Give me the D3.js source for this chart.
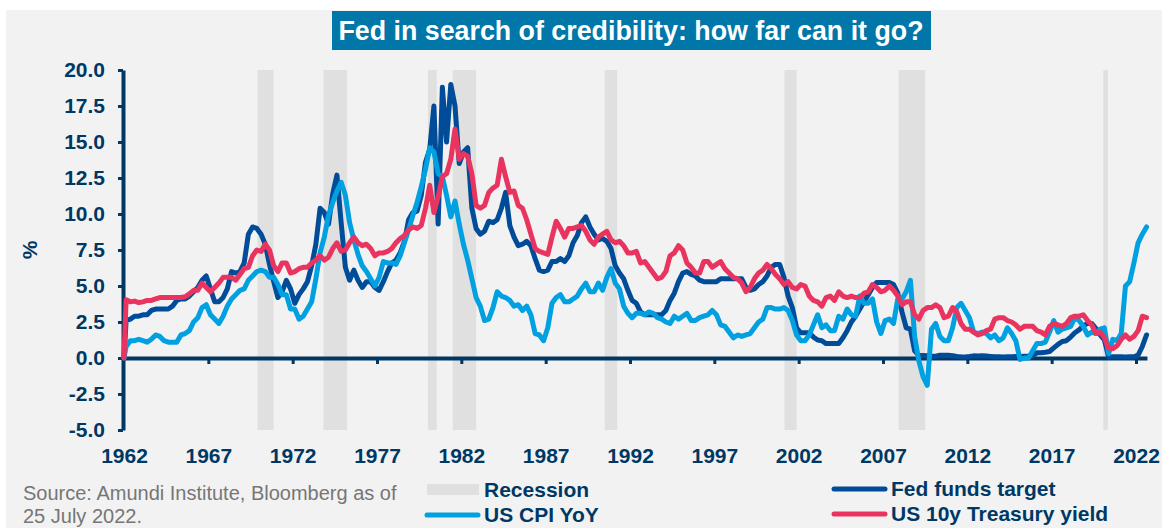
<!doctype html>
<html>
<head>
    <meta charset="utf-8">
    <script src="https://cdn.jsdelivr.net/npm/d3@7"></script>
    <style>
        html, body {
            margin: 0;
            padding: 0;
            background: #fff;
        }
        svg text {
            font-family: "Liberation Sans", Arial, sans-serif;
        }
        .axis text {
            font-size: 21px;
            font-weight: bold;
            fill: #003865;
        }
    </style>
</head>
<body>
<svg id="chart" width="1162" height="528"></svg>
<script>
    // quarterly readings, first entry is the Jan-1962 zero the source starts with
    var fedFunds = [0,
        2.6, 2.7, 2.9, 2.9,   3.0, 3.0, 3.3, 3.4,   3.4, 3.4, 3.4, 3.6,   4.0, 4.1, 4.1, 4.3,   // 62-65
        4.6, 4.9, 5.4, 5.7,   4.8, 3.9, 3.9, 4.2,   4.8, 6.0, 5.9, 6.0,   6.6, 8.6, 9.1, 9.0,   // 66-69
        8.6, 7.9, 6.5, 5.3,   4.2, 4.6, 5.4, 4.8,   3.8, 4.4, 4.8, 5.3,   6.4, 7.9, 10.4, 10.1, // 70-73
        9.3, 11.4, 12.7, 9.4, 6.3, 5.4, 6.1, 5.4,   4.9, 5.3, 5.3, 4.9,   4.7, 5.3, 6.0, 6.6,   // 74-77
        6.8, 7.3, 8.1, 9.6,   10.1, 10.2, 11.3, 13.6, 14.5, 17.5, 9.3, 18.8, 15.0, 19.0, 17.5, 13.5, // 78-81
        14.3, 14.6, 10.4, 9.0, 8.6, 8.8, 9.5, 9.4,  9.6, 10.4, 11.5, 9.2,  8.4, 7.8, 7.9, 8.1,   // 82-85
        7.8, 6.9, 6.1, 6.0,   6.1, 6.7, 6.7, 6.9,   6.7, 7.1, 8.0, 8.5,   9.4, 9.8, 9.1, 8.6,   // 86-89
        8.2, 8.3, 8.1, 7.6,   6.4, 5.9, 5.5, 4.7,   4.0, 3.8, 3.2, 3.0,   3.0, 3.0, 3.0, 3.0,   // 90-93
        3.3, 4.0, 4.5, 5.3,   5.9, 6.0, 5.8, 5.7,   5.4, 5.3, 5.3, 5.3,   5.3, 5.5, 5.5, 5.5,   // 94-97
        5.5, 5.5, 5.5, 4.9,   4.7, 4.8, 5.1, 5.3,   5.7, 6.3, 6.5, 6.5,   5.6, 4.3, 3.5, 2.1,   // 98-01
        1.75, 1.75, 1.75, 1.45, 1.25, 1.2, 1.0, 1.0, 1.0, 1.0, 1.4, 1.9,  2.5, 2.9, 3.4, 3.9,   // 02-05
        4.4, 4.9, 5.25, 5.25, 5.25, 5.25, 5.1, 4.5, 3.2, 2.1, 2.0, 0.5,   0.18, 0.18, 0.16, 0.12, // 06-09
        0.13, 0.19, 0.19, 0.19, 0.16, 0.1, 0.08, 0.07, 0.1, 0.15, 0.14, 0.16, 0.14, 0.11, 0.08, 0.09, // 10-13
        0.07, 0.09, 0.09, 0.1, 0.11, 0.13, 0.14, 0.16, 0.36, 0.37, 0.4, 0.45, 0.7, 0.95, 1.15, 1.2, // 14-17
        1.45, 1.75, 1.95, 2.25, 2.4, 2.4, 2.05, 1.6, 1.25, 0.06, 0.09, 0.09, 0.08, 0.07, 0.08, 0.08, // 18-21
        0.2, 0.8, 1.6];                                                                          // 22

    var cpiYoY = [0,
        0.8, 1.2, 1.2, 1.3,   1.2, 1.1, 1.3, 1.6,   1.5, 1.2, 1.1, 1.1,   1.1, 1.6, 1.7, 1.9,   // 62-65
        2.5, 2.8, 3.5, 3.7,   3.0, 2.7, 2.4, 2.9,   3.6, 4.1, 4.4, 4.7,   4.8, 5.4, 5.7, 6.0,   // 66-69
        6.1, 6.0, 5.6, 5.6,   5.1, 4.4, 4.4, 3.4,   3.4, 2.7, 2.9, 3.4,   3.9, 5.5, 7.3, 8.4,   // 70-73
        9.9, 10.8, 11.6, 12.2, 11.3, 9.4, 8.2, 7.2, 6.4, 6.0, 5.5, 5.0,   5.6, 6.7, 6.6, 6.6,   // 74-77
        6.5, 7.1, 8.0, 8.9,   9.9, 10.8, 11.9, 13.1, 14.6, 14.3, 12.8, 12.6, 11.3, 9.8, 10.9, 9.3, // 78-81
        7.9, 6.8, 5.5, 4.2,   3.6, 2.6, 2.7, 3.5,   4.6, 4.3, 4.2, 4.0,   3.6, 3.7, 3.3, 3.6,   // 82-85
        3.0, 1.7, 1.6, 1.2,   2.1, 3.8, 4.2, 4.4,   3.9, 3.9, 4.1, 4.3,   4.8, 5.2, 4.6, 4.6,   // 86-89
        5.2, 4.7, 5.6, 6.2,   5.2, 4.8, 3.6, 3.1,   2.8, 3.1, 3.1, 3.0,   3.2, 3.1, 2.8, 2.7,   // 90-93
        2.5, 2.4, 2.9, 2.7,   2.9, 3.1, 2.6, 2.6,   2.8, 2.9, 3.0, 3.3,   3.0, 2.3, 2.2, 1.8,   // 94-97
        1.4, 1.6, 1.5, 1.6,   1.7, 2.1, 2.5, 2.7,   3.5, 3.5, 3.4, 3.4,   3.5, 3.3, 2.6, 1.6,   // 98-01
        1.2, 1.2, 1.6, 2.3,   3.0, 2.1, 2.3, 1.9,   1.9, 2.9, 2.7, 3.4,   3.0, 2.9, 4.3, 3.8,   // 02-05
        3.8, 4.1, 2.5, 1.7,   2.6, 2.7, 2.4, 4.1,   4.1, 4.6, 5.4, 1.5,   -0.2, -1.3, -1.9, 2.0, // 06-09
        2.4, 1.5, 1.2, 1.2,   2.1, 3.5, 3.8, 3.3,   2.8, 1.8, 1.7, 1.8,   1.7, 1.4, 1.6, 1.2,   // 10-13
        1.4, 2.1, 1.7, 1.2,   -0.1, 0.0, 0.0, 0.5,  1.0, 1.0, 1.1, 1.8,   2.6, 1.8, 2.0, 2.1,   // 14-17
        2.2, 2.8, 2.6, 2.2,   1.6, 1.8, 1.7, 2.0,   2.1, 0.3, 1.3, 1.2,   1.7, 5.0, 5.3, 6.6,   // 18-21
        8.0, 8.6, 9.1];                                                                          // 22

    var treasury10y = [0,
        4.05, 3.9, 3.95, 3.85, 3.9, 4.0, 4.0, 4.1,  4.2, 4.2, 4.2, 4.2,   4.2, 4.2, 4.25, 4.45, // 62-65
        4.7, 4.7, 5.2, 4.9,   4.6, 4.9, 5.2, 5.6,   5.6, 5.6, 5.4, 5.8,   6.2, 6.3, 7.1, 7.5,   // 66-69
        7.4, 7.9, 7.5, 6.4,   6.0, 6.6, 6.6, 5.9,   6.0, 6.2, 6.3, 6.3,   6.6, 6.8, 7.1, 6.8,   // 70-73
        7.0, 7.6, 8.0, 7.4,   7.5, 8.0, 8.4, 8.0,   7.8, 7.9, 7.6, 7.1,   7.3, 7.3, 7.4, 7.6,   // 74-77
        8.0, 8.3, 8.5, 8.9,   9.1, 9.0, 9.2, 10.4,  12.0, 10.1, 11.2, 12.6, 12.8, 13.8, 15.9, 13.8, // 78-81
        14.2, 14.0, 12.8, 10.6, 10.4, 10.6, 11.5, 11.8, 12.0, 13.8, 12.6, 11.5, 11.6, 10.6, 10.4, 9.6, // 82-85
        8.6, 7.6, 7.4, 7.3,   7.2, 8.4, 9.5, 9.0,   8.4, 9.0, 9.0, 9.1,   9.2, 8.8, 8.2, 7.9,   // 86-89
        8.4, 8.6, 8.8, 8.2,   8.0, 8.1, 7.8, 7.3,   7.3, 7.4, 6.6, 6.7,   6.3, 5.9, 5.5, 5.6,   // 90-93
        6.0, 7.1, 7.3, 7.8,   7.5, 6.6, 6.3, 5.9,   5.9, 6.7, 6.7, 6.3,   6.5, 6.7, 6.2, 5.9,   // 94-97
        5.6, 5.5, 5.2, 4.6,   4.9, 5.5, 5.9, 6.1,   6.5, 6.2, 5.8, 5.5,   5.1, 5.3, 4.9, 4.8,   // 98-01
        5.1, 5.0, 4.3, 4.0,   3.9, 3.6, 4.2, 4.3,   4.0, 4.6, 4.3, 4.2,   4.3, 4.2, 4.2, 4.5,   // 02-05
        4.6, 5.1, 4.9, 4.6,   4.7, 5.0, 4.7, 4.3,   3.7, 3.9, 3.9, 3.0,   2.7, 3.3, 3.5, 3.5,   // 06-09
        3.7, 3.5, 2.8, 2.9,   3.5, 3.2, 2.4, 2.0,   2.0, 1.8, 1.6, 1.7,   1.9, 2.0, 2.7, 2.8,   // 10-13
        2.8, 2.6, 2.5, 2.3,   2.0, 2.2, 2.2, 2.2,   1.9, 1.8, 1.6, 2.2,   2.4, 2.3, 2.2, 2.4,   // 14-17
        2.8, 2.9, 2.9, 3.0,   2.6, 2.3, 1.7, 1.8,   1.4, 0.7, 0.65, 0.85, 1.3, 1.6, 1.3, 1.5,   // 18-21
        1.9, 2.9, 2.8];                                                                          // 22

    // NBER recessions, [start, end] in decimal years
    var recessions = [[1969.92, 1970.87], [1973.83, 1975.23], [1980.02, 1980.54], [1981.49, 1982.88],
        [1990.5, 1991.24], [2001.16, 2001.88], [2007.92, 2009.5], [2020.06, 2020.33]];

    var yTicks = [-5, -2.5, 0, 2.5, 5, 7.5, 10, 12.5, 15, 17.5, 20];
    var xTicks = [1962, 1967, 1972, 1977, 1982, 1987, 1992, 1997, 2002, 2007, 2012, 2017, 2022];

    var titleText = "Fed in search of credibility: how far can it go?";
    var sourceLines = ["Source: Amundi Institute, Bloomberg as of", "25 July 2022."];

    var series = [
        {name: "Fed funds target", values: fedFunds, color: "#004c99"},
        {name: "US CPI YoY", values: cpiYoY, color: "#00a0e1"},
        {name: "US 10y Treasury yield", values: treasury10y, color: "#e8345f"}
    ];

    var navy = "#003865";
    var svg = d3.select("#chart");

    svg.append("rect").attr("x", 6).attr("y", 10).attr("width", 1156).attr("height", 518).attr("fill", "#f2f2f2");

    var x = d3.scaleLinear().domain([1962, 2022]).range([124, 1136]);
    var y = d3.scaleLinear().domain([-5, 20]).range([430, 70]);

    function toPoints(values){
        return values.map(function(v, i){
            return {t: i === 0 ? 1962 : 1962.125 + (i - 1) * 0.25, v: v};
        });
    }

    // recession bands
    svg.append("g").selectAll("rect")
        .data(recessions)
        .enter().append("rect")
        .attr("x", function(d){ return x(d[0]); })
        .attr("width", function(d){ return x(d[1]) - x(d[0]); })
        .attr("y", y(20))
        .attr("height", y(-5) - y(20))
        .attr("fill", "#e0e0e0");

    // title
    svg.append("rect").attr("x", 332).attr("y", 11).attr("width", 599).attr("height", 39).attr("fill", "#0077a8");
    svg.append("text")
        .attr("x", 631).attr("y", 40)
        .attr("text-anchor", "middle")
        .style("font-size", "26.8px").style("font-weight", "bold").attr("fill", "#fff")
        .text(titleText);

    // y axis
    var yAxis = svg.append("g").attr("class", "axis")
        .attr("transform", "translate(123,0)")
        .call(d3.axisLeft(y).tickValues(yTicks).tickSize(5).tickSizeOuter(0).tickPadding(13)
            .tickFormat(function(d){ return d.toFixed(1); }));
    yAxis.select(".domain").attr("stroke", navy).attr("stroke-width", 4);
    yAxis.selectAll(".tick line").attr("stroke", navy).attr("stroke-width", 3);

    // x labels along the bottom
    var xLabels = svg.append("g").attr("class", "axis")
        .attr("transform", "translate(0," + y(-5) + ")")
        .call(d3.axisBottom(x).tickValues(xTicks).tickSize(0).tickPadding(18).tickFormat(d3.format("d")));
    xLabels.select(".domain").remove();

    // zero line with year ticks
    var zeroAxis = svg.append("g").attr("class", "axis")
        .attr("transform", "translate(0," + y(0) + ")")
        .call(d3.axisBottom(d3.scaleLinear().domain([1962, 2022.65]).range([x(1962), x(2022.65)]))
            .tickValues(xTicks.slice(1)).tickSize(6).tickSizeOuter(0).tickFormat(""));
    zeroAxis.select(".domain").attr("stroke", navy).attr("stroke-width", 4);
    zeroAxis.selectAll(".tick line").attr("stroke", navy).attr("stroke-width", 3);

    svg.append("text")
        .attr("transform", "translate(37," + y(7.5) + ") rotate(-90)")
        .attr("text-anchor", "middle")
        .style("font-size", "21px").style("font-weight", "bold").attr("fill", navy)
        .text("%");

    // series
    var line = d3.line()
        .x(function(d){ return x(d.t); })
        .y(function(d){ return y(d.v); });

    svg.append("g").selectAll("path")
        .data(series)
        .enter().append("path")
        .attr("d", function(s){ return line(toPoints(s.values)); })
        .attr("fill", "none")
        .attr("stroke", function(s){ return s.color; })
        .attr("stroke-width", 5)
        .attr("stroke-linejoin", "round")
        .attr("stroke-linecap", "round");

    // source
    svg.append("g").selectAll("text")
        .data(sourceLines)
        .enter().append("text")
        .attr("x", 23)
        .attr("y", function(d, i){ return 500 + i * 23; })
        .style("font-size", "20px").attr("fill", "#767676")
        .text(function(d){ return d; });

    // legend
    var legendItems = [
        {name: "Recession", type: "band", color: "#e0e0e0", x: 427, y: 490},
        {name: "US CPI YoY", type: "line", color: series[1].color, x: 427, y: 515},
        {name: "Fed funds target", type: "line", color: series[0].color, x: 834, y: 489},
        {name: "US 10y Treasury yield", type: "line", color: series[2].color, x: 834, y: 514}
    ];
    var legend = svg.append("g").selectAll("g")
        .data(legendItems)
        .enter().append("g")
        .attr("transform", function(d){ return "translate(" + d.x + "," + d.y + ")"; });
    legend.filter(function(d){ return d.type === "band"; })
        .append("rect").attr("x", 0).attr("y", -6).attr("width", 52).attr("height", 11)
        .attr("fill", function(d){ return d.color; });
    legend.filter(function(d){ return d.type === "line"; })
        .append("line").attr("x1", 0).attr("x2", 51).attr("y1", 0).attr("y2", 0)
        .attr("stroke", function(d){ return d.color; }).attr("stroke-width", 5).attr("stroke-linecap", "round");
    legend.append("text")
        .attr("x", 57).attr("y", 7)
        .style("font-size", "21px").style("font-weight", "bold").attr("fill", navy)
        .text(function(d){ return d.name; });
</script>
</body>
</html>
